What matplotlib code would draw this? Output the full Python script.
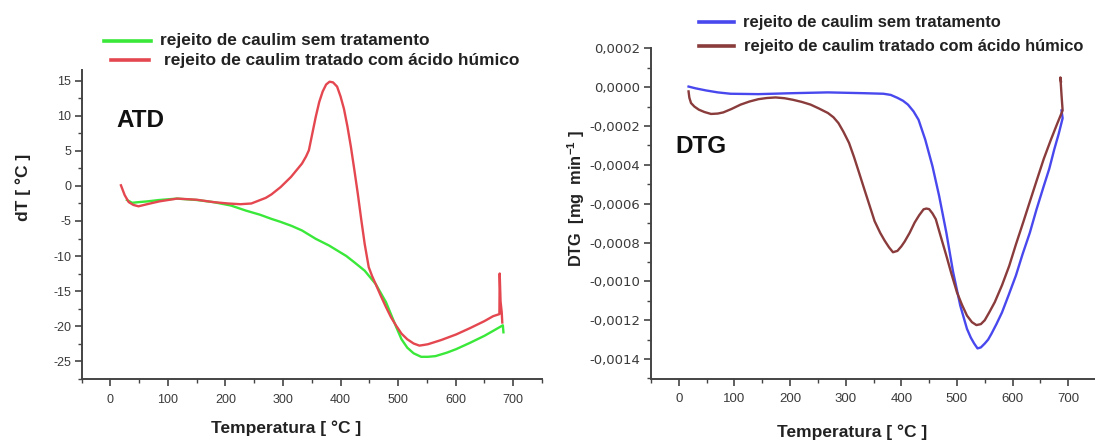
import numpy as np
import matplotlib
matplotlib.use("Agg")
import matplotlib.pyplot as plt
from matplotlib.lines import Line2D
from matplotlib.ticker import MultipleLocator, FuncFormatter

plt.rcParams['font.family'] = ['Liberation Sans', 'DejaVu Sans']
plt.rcParams['mathtext.fontset'] = 'custom'
plt.rcParams['mathtext.bf'] = 'Liberation Sans:bold'
plt.rcParams['mathtext.rm'] = 'Liberation Sans'
plt.rcParams['axes.unicode_minus'] = False

# ATD - sem tratamento (green)
atd_raw_T = [29, 38, 50, 64, 85, 116, 150, 179, 210, 235, 260, 280, 295, 315, 333,
             357, 380, 394, 410, 424, 442, 461, 479, 497, 506, 516, 527, 540, 552,
             565, 585, 601, 625, 650, 665, 682, 683]
atd_raw_dT = [-2.0, -2.4, -2.3, -2.2, -2.0, -1.8, -2.0, -2.3, -2.8, -3.5, -4.1,
              -4.7, -5.1, -5.7, -6.35, -7.55, -8.5, -9.2, -10.0, -10.9, -12.1,
              -14.0, -16.6, -20.2, -21.9, -23.1, -23.9, -24.4, -24.4, -24.3, -23.8,
              -23.3, -22.4, -21.4, -20.7, -19.9, -20.9]
# ATD - tratado com acido humico (red)
atd_hum_T = [18.5, 25, 32, 40, 49, 64, 85, 116, 150, 179, 205, 226, 245, 259, 270,
             280, 296, 314, 333, 340, 345, 351, 357, 363, 369, 375, 381, 387, 394,
             400, 406, 412, 418, 424, 430, 436, 442, 449, 455, 461, 470, 479, 488,
             497, 506, 516, 527, 537, 545, 552, 575, 601, 625, 650, 665, 676, 676.5,
             678, 680, 681]
atd_hum_dT = [0.1, -1.3, -2.3, -2.7, -2.9, -2.6, -2.2, -1.8, -1.96, -2.3, -2.5,
              -2.6, -2.5, -2.05, -1.7, -1.2, -0.15, 1.3, 3.2, 4.2, 5.1, 7.5, 9.9,
              12.0, 13.5, 14.5, 14.9, 14.8, 14.2, 12.8, 11.0, 8.5, 5.6, 2.3, -1.1,
              -4.8, -8.3, -11.6, -12.9, -14.0, -15.7, -17.3, -18.8, -20.0, -21.1,
              -21.9, -22.5, -22.8, -22.7, -22.6, -22.0, -21.2, -20.3, -19.3, -18.6,
              -18.3, -12.5, -16.5, -18.0, -19.5]

# DTG - sem tratamento (blue)
dtg_raw_T = [17.5, 30, 49, 70, 93, 143, 205, 268, 331, 368, 381, 393, 403, 412,
             422, 431, 443, 456, 468, 481, 493, 506, 518, 525, 531, 537, 543, 550,
             556, 562, 571, 581, 593, 606, 618, 631, 643, 656, 666, 675, 683, 690, 688]
dtg_raw_v = [0.000003, -0.000006, -0.000017, -0.000027, -0.000034, -0.000036,
             -0.000031, -0.000027, -0.000031, -0.000034, -0.00004, -0.000055,
             -0.00007, -0.00009, -0.000125, -0.000168, -0.00027, -0.000407,
             -0.00056, -0.00075, -0.00095, -0.001125, -0.001244, -0.00129,
             -0.00132, -0.001345, -0.00134, -0.00132, -0.0013, -0.00127,
             -0.00122, -0.00116, -0.00107, -0.00097, -0.00086, -0.00075,
             -0.00063, -0.00051, -0.00042, -0.00032, -0.00024, -0.00016, -0.00012]
# DTG - tratado com acido humico (brown)
dtg_hum_T = [17.5, 19, 22, 28, 36, 46, 58, 70, 80, 95, 111, 127, 143, 158, 174,
             190, 205, 221, 237, 252, 268, 278, 287, 296, 306, 315, 324, 334, 343,
             352, 362, 370, 378, 385, 393, 400, 406, 415, 424, 432, 440, 445, 450,
             456, 462, 471, 481, 490, 500, 509, 518, 527, 535, 543, 550, 558, 568,
             581, 594, 606, 619, 631, 644, 656, 669, 680, 690, 688, 686, 687]
dtg_hum_v = [-0.000022, -0.000055, -0.000082, -0.0001, -0.000116, -0.000128,
             -0.000138, -0.000136, -0.00013, -0.000112, -0.00009, -0.000074,
             -0.000062, -0.000056, -0.000053, -0.000057, -0.000065, -0.000076,
             -0.00009, -0.00011, -0.000133, -0.000155, -0.000185, -0.00023,
             -0.000287, -0.00036, -0.00044, -0.00053, -0.00061, -0.00069,
             -0.00075, -0.00079, -0.000825, -0.00085, -0.000843, -0.00082,
             -0.000795, -0.00075, -0.000697, -0.00066, -0.000629, -0.000625,
             -0.000628, -0.00065, -0.00068, -0.00077, -0.000868, -0.00096,
             -0.001056, -0.00112, -0.001176, -0.00121, -0.001225, -0.00122,
             -0.0012, -0.00116, -0.001107, -0.00102, -0.00092, -0.00081,
             -0.000697, -0.00059, -0.000475, -0.00037, -0.00027, -0.00019,
             -0.00012, -0.00004, 0.00005, 0.00003]

label_raw = "rejeito de caulim sem tratamento"
label_hum = "rejeito de caulim tratado com ácido húmico"

c_green = "#3ae83a"
c_red = "#e4474f"
c_blue = "#4848ee"
c_brown = "#8a3b3b"
axis_col = "#444444"
tick_col = "#3a3a3a"

W, H = 1095, 441
fig = plt.figure(figsize=(W / 100, H / 100), dpi=100)


def style_axes(ax):
    for s in ("top", "right"):
        ax.spines[s].set_visible(False)
    for s in ("left", "bottom"):
        ax.spines[s].set_color(axis_col)
        ax.spines[s].set_linewidth(1.4)
    ax.tick_params(which="major", direction="out", length=5, width=1.2,
                   color=axis_col, labelcolor=tick_col)
    ax.tick_params(which="minor", direction="out", length=3, width=1.0, color=axis_col)
    ax.tick_params(axis="x", pad=5.5)
    ax.tick_params(axis="y", pad=2.5)
    ax.set_xlim(-50, 750)
    ax.xaxis.set_major_locator(MultipleLocator(100))
    ax.xaxis.set_minor_locator(MultipleLocator(50))


# left panel: ATD
ax1 = fig.add_axes([81.5 / W, 1 - 379 / H, (542 - 81.5) / W, (379 - 70) / H])
style_axes(ax1)
ax1.tick_params(labelsize=9)
ax1.plot(atd_raw_T, atd_raw_dT, color=c_green, lw=1.7)
ax1.plot(atd_hum_T, atd_hum_dT, color=c_red, lw=1.7)
ax1.set_ylim(-27.57, 16.57)
ax1.yaxis.set_major_locator(MultipleLocator(5))
ax1.yaxis.set_minor_locator(MultipleLocator(2.5))
ax1.text(116.5 / W, 1 - 120 / H, "ATD", transform=fig.transFigure, fontsize=17.5,
         fontweight="bold", va="center", ha="left", color="#111111")

# right panel: DTG
ax2 = fig.add_axes([651 / W, 1 - 378.5 / H, (1096 - 651) / W, (378.5 - 48.3) / H])
style_axes(ax2)
ax2.tick_params(axis="x", labelsize=9.5)
ax2.tick_params(axis="y", labelsize=9.5)
ax2.plot(dtg_raw_T, dtg_raw_v, color=c_blue, lw=1.7)
ax2.plot(dtg_hum_T, dtg_hum_v, color=c_brown, lw=1.7)
ax2.set_ylim(-0.0015, 0.0002)
ax2.yaxis.set_major_locator(MultipleLocator(0.0002))
ax2.yaxis.set_minor_locator(MultipleLocator(0.0001))
ax2.yaxis.set_major_formatter(FuncFormatter(
    lambda v, p: f"{v:.4f}".replace(".", ",").replace("-0,0000", "0,0000")))
for lab in ax2.get_yticklabels():
    lab.set_family("DejaVu Sans")
ax2.text(675 / W, 1 - 147 / H, "DTG", transform=fig.transFigure, fontsize=17.5,
         fontweight="bold", va="center", ha="left", color="#111111")

# axis labels
fig.text(286 / W, 1 - 428 / H, "Temperatura [ °C ]", ha="center", va="center",
         fontsize=12.5, fontweight="bold", color="#222222")
fig.text(852 / W, 1 - 432 / H, "Temperatura [ °C ]", ha="center", va="center",
         fontsize=12.5, fontweight="bold", color="#222222")
fig.text(23 / W, 1 - 187 / H, "dT [ °C ]", ha="center", va="center", rotation=90,
         fontsize=12.5, fontweight="bold", color="#222222")
fig.text(576 / W, 1 - 199 / H, r"DTG  [mg  min$^{\mathbf{-1}}$ ]", ha="center",
         va="center", rotation=90, fontsize=11.8, fontweight="bold", color="#222222")


# legends
def legend_row(x0, x1, xt, y, color, text, size):
    fig.add_artist(Line2D([x0 / W, x1 / W], [1 - y / H, 1 - y / H], color=color,
                          lw=2.6, transform=fig.transFigure))
    fig.text(xt / W, 1 - y / H, text, ha="left", va="center", fontsize=size,
             fontweight="bold", color="#222222")


legend_row(103.5, 151, 160, 41, c_green, label_raw, 12.4)
legend_row(110.5, 149, 164, 60, c_red, label_hum, 12.4)
legend_row(699.5, 734, 743, 22, c_blue, label_raw, 11.9)
legend_row(699.5, 734, 743.5, 46, c_brown, label_hum, 11.9)

fig.savefig("out.png", dpi=100)
